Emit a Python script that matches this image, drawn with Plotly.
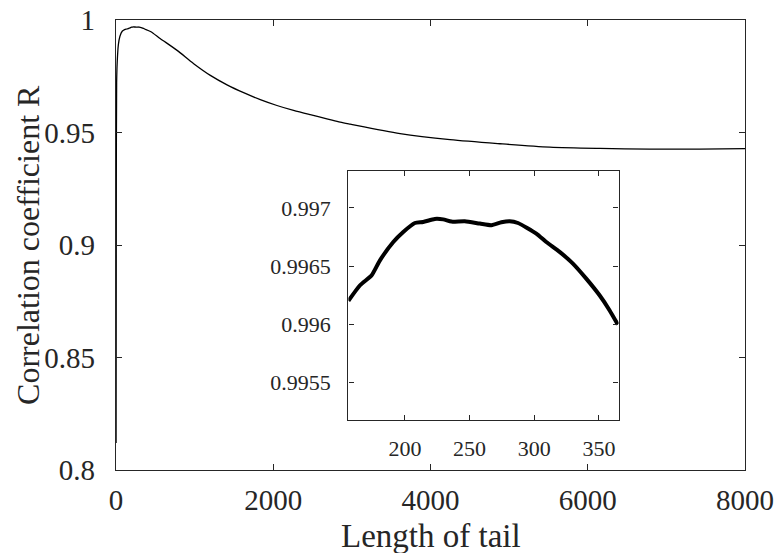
import plotly.graph_objects as go

# Main curve: correlation coefficient R vs length of tail
head_x = [1, 4, 8, 15, 30, 50, 79, 110, 135]
head_y = [0.812, 0.93, 0.972, 0.981, 0.989, 0.9928, 0.9950, 0.9957, 0.9960]

inset_x = [156.3, 165.3, 174.3, 180.7, 191.0, 198.7, 207.7, 214.1, 223.1, 229.6,
           236.0, 246.3, 257.9, 266.9, 274.6, 281.0, 287.4, 301.6, 309.3, 319.6,
           329.9, 340.2, 350.5, 358.2, 364.6]
inset_y = [0.996203, 0.996337, 0.996423, 0.996551, 0.996708, 0.996794, 0.996871,
           0.996880, 0.996906, 0.996902, 0.996883, 0.996886, 0.996866, 0.996852,
           0.996877, 0.996886, 0.996871, 0.996780, 0.996708, 0.996623, 0.996523,
           0.996394, 0.996251, 0.996123, 0.996000]

tail_x = [438, 565, 777, 988, 1200, 1412, 1623, 1835, 2047, 2258, 2470, 2682,
          2851, 2978, 3613, 4248, 4883, 5518, 6152, 6787, 7422, 8000]
tail_y = [0.9949, 0.9917, 0.9865, 0.9806, 0.9754, 0.9712, 0.9677, 0.9646,
          0.9620, 0.9598, 0.9579, 0.9561, 0.9546, 0.9537, 0.9495, 0.9468,
          0.9450, 0.9435, 0.9429, 0.9426, 0.9426, 0.9428]

main_x = head_x + inset_x + tail_x
main_y = head_y + inset_y + tail_y

main_xticks = [0, 2000, 4000, 6000, 8000]
main_yticks = [0.8, 0.85, 0.9, 0.95, 1.0]
main_ytext = ["0.8", "0.85", "0.9", "0.95", "1"]
inset_xticks = [200, 250, 300, 350]
inset_yticks = [0.9955, 0.996, 0.9965, 0.997]
inset_ytext = ["0.9955", "0.996", "0.9965", "0.997"]
x_title = "Length of tail"
y_title = "Correlation coefficient R"

FONT = "Liberation Serif"
AX = "#262626"

fig = go.Figure()
fig.add_trace(go.Scatter(x=main_x, y=main_y, mode="lines",
                         line=dict(color="black", width=1.3, shape="spline", smoothing=0.8),
                         xaxis="x", yaxis="y", showlegend=False))
fig.add_trace(go.Scatter(x=inset_x, y=inset_y, mode="lines",
                         line=dict(color="black", width=4, shape="spline", smoothing=0.6),
                         xaxis="x2", yaxis="y2", showlegend=False))

common = dict(showline=True, mirror="ticks", ticks="inside", linecolor=AX,
              tickcolor=AX, linewidth=1.3, showgrid=False, zeroline=False,
              automargin=False)

fig.update_layout(
    width=777, height=553,
    margin=dict(l=115.5, r=31.5, t=19.5, b=83),
    paper_bgcolor="white", plot_bgcolor="white",
    font=dict(family=FONT, color="#262626"),
    xaxis=dict(range=[0, 8000], tickvals=main_xticks, ticklen=6,
               tickfont=dict(size=29, family=FONT), ticklabelstandoff=4, **common),
    yaxis=dict(range=[0.8, 1.0], tickvals=main_yticks, ticktext=main_ytext, ticklen=6,
               tickfont=dict(size=29, family=FONT), ticklabelstandoff=14, **common),
    xaxis2=dict(domain=[0.3695, 0.799], anchor="y2", range=[156.3, 365.2],
                tickvals=inset_xticks, ticklen=5,
                tickfont=dict(size=22, family=FONT), ticklabelstandoff=9, **common),
    yaxis2=dict(domain=[0.1117, 0.6644], anchor="x2", range=[0.995183, 0.997317],
                tickvals=inset_yticks, ticktext=inset_ytext, ticklen=5,
                tickfont=dict(size=22, family=FONT), ticklabelstandoff=12, **common),
    annotations=[
        dict(text=x_title, xref="paper", yref="paper", x=0.5, y=-0.1465,
             xanchor="center", yanchor="middle", showarrow=False,
             font=dict(size=33, family=FONT, color="#262626")),
        dict(text=y_title, xref="paper", yref="paper", x=-0.1389, y=0.4994,
             xanchor="center", yanchor="middle", showarrow=False, textangle=-90,
             font=dict(size=32, family=FONT, color="#262626")),
    ],
)
fig.add_shape(type="rect", xref="x2 domain", yref="y2 domain", x0=0, x1=1, y0=0, y1=1,
              fillcolor="white", line=dict(width=0), layer="below")

fig.write_html("out.html")
